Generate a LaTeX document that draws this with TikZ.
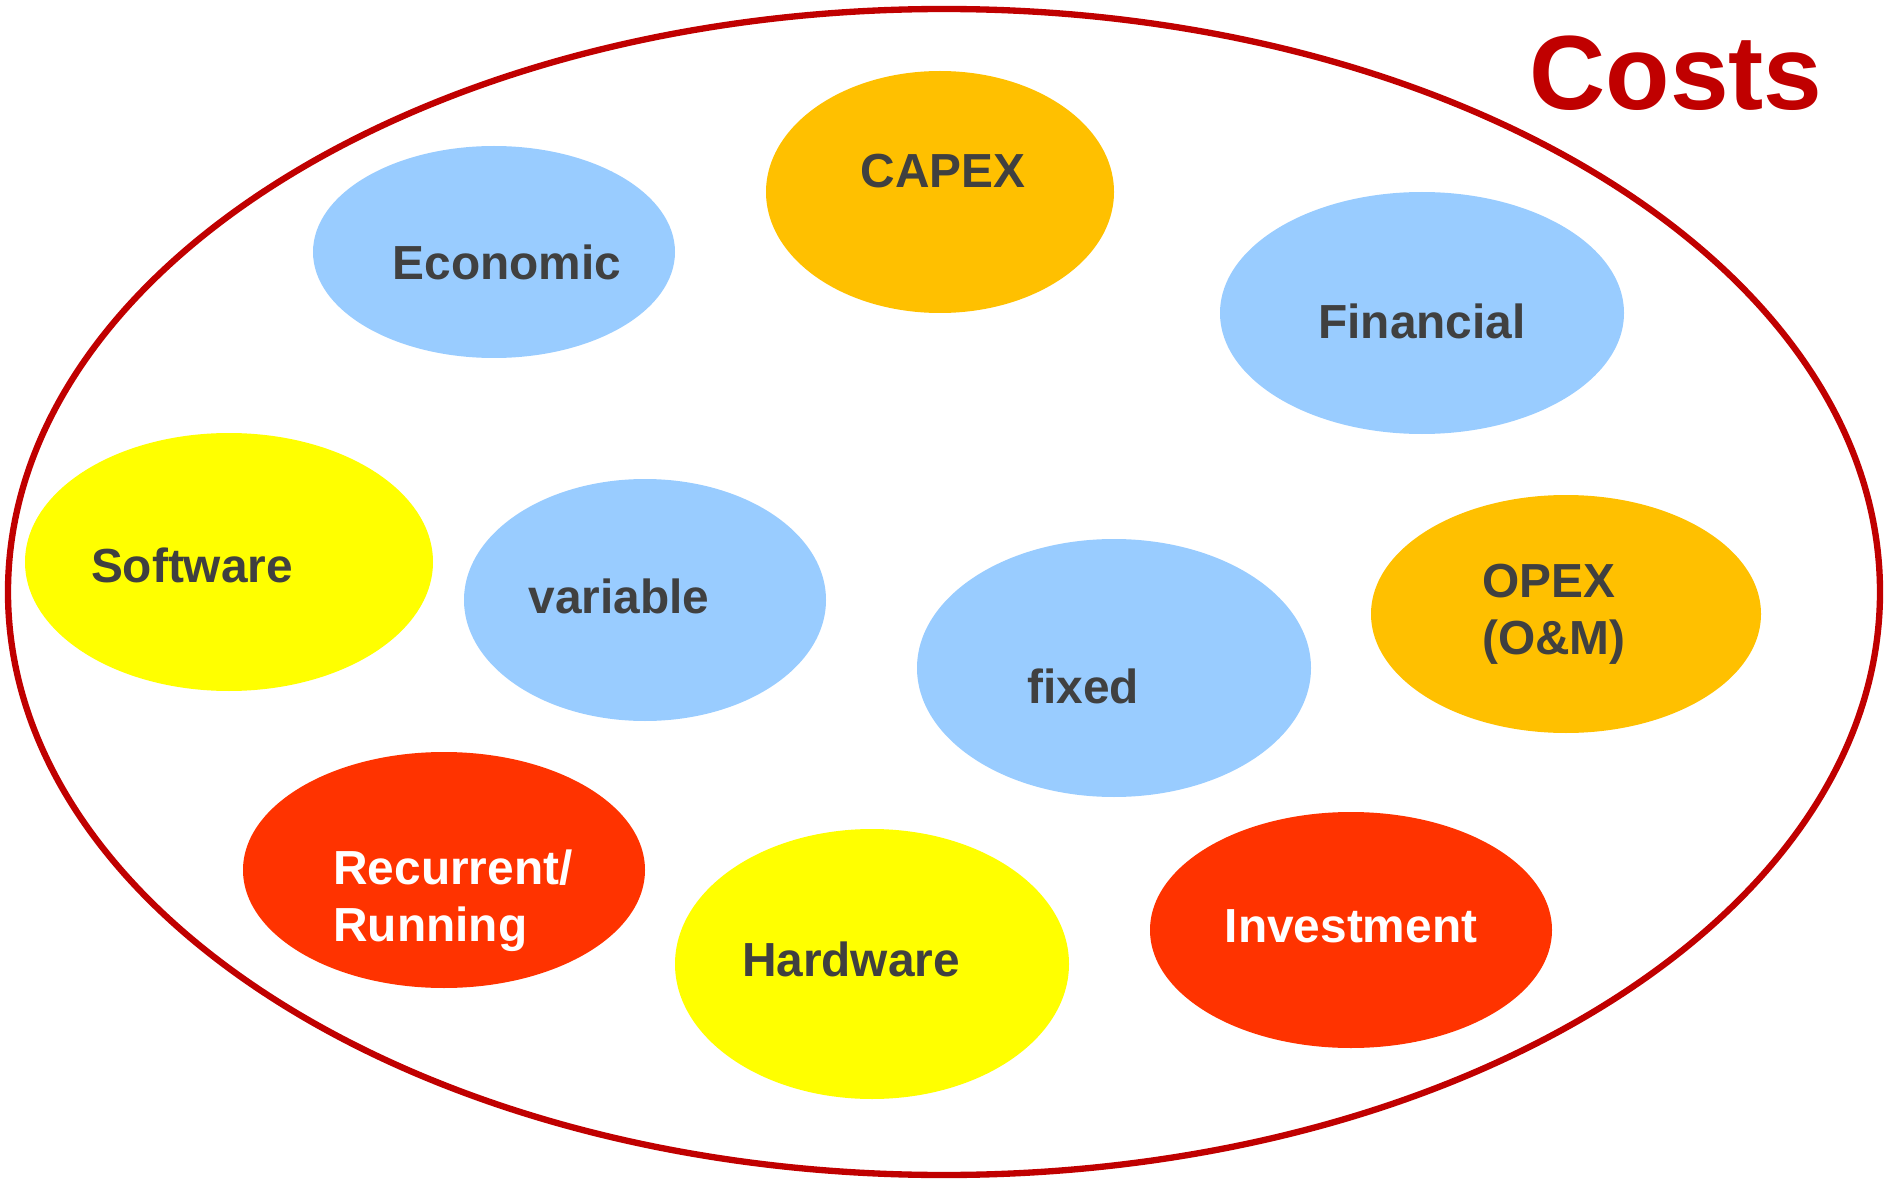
\documentclass[tikz,border=0pt]{standalone}
\usepackage{fontspec}
\setmainfont{Liberation Sans}
\definecolor{costred}{HTML}{C00000}
\definecolor{lightblue}{HTML}{99CCFF}
\definecolor{amber}{HTML}{FFC000}
\definecolor{brightyellow}{HTML}{FFFF00}
\definecolor{redorange}{HTML}{FF3300}
\definecolor{darkgrey}{HTML}{404040}
\begin{document}
\begin{tikzpicture}[x=0.01cm,y=0.01cm,
    costtxt/.style={font=\fontsize{13.6}{16.2}\selectfont\bfseries,text=darkgrey,align=left,inner sep=0pt},
    whitetxt/.style={costtxt,text=white}]
        \useasboundingbox (0,0) rectangle (1884,-1182);
        \draw[costred,line width=1.8pt] (944,-592) ellipse (936 and 583);
        \node[font=\fontsize{30}{36}\selectfont\bfseries,text=costred,anchor=base,inner sep=0pt] (costs) at (1676,-110) {Costs};
        % the kinds of costs
        \fill[lightblue] (494,-252) ellipse (181 and 106);
        \fill[amber] (940,-192) ellipse (174 and 121);
        \fill[lightblue] (1422,-313) ellipse (202 and 121);
        \fill[brightyellow] (229,-562) ellipse (204 and 129);
        \fill[lightblue] (645,-600) ellipse (181 and 121);
        \fill[lightblue] (1114,-668) ellipse (197 and 129);
        \fill[amber] (1566,-614) ellipse (195 and 119);
        \fill[redorange] (444,-870) ellipse (201 and 118);
        \fill[brightyellow] (872,-964) ellipse (197 and 135);
        \fill[redorange] (1351,-930) ellipse (201 and 118);
        \node[costtxt] (economic) at (507,-262) {Economic};
        \node[costtxt] (capex) at (943,-171) {CAPEX};
        \node[costtxt] (financial) at (1422,-321) {Financial};
        \node[costtxt] (software) at (192,-565) {Software};
        \node[costtxt] (variable) at (619,-596) {variable};
        \node[costtxt] (fixed) at (1083,-686) {fixed};
        \node[costtxt] (opex) at (1554,-614) {OPEX\\(O\&M)};
        \node[whitetxt] (recurrent) at (453,-901) {Recurrent/\\Running};
        \node[costtxt] (hardware) at (851,-959) {Hardware};
        \node[whitetxt] (investment) at (1351,-926) {Investment};
      \end{tikzpicture}
\end{document}
